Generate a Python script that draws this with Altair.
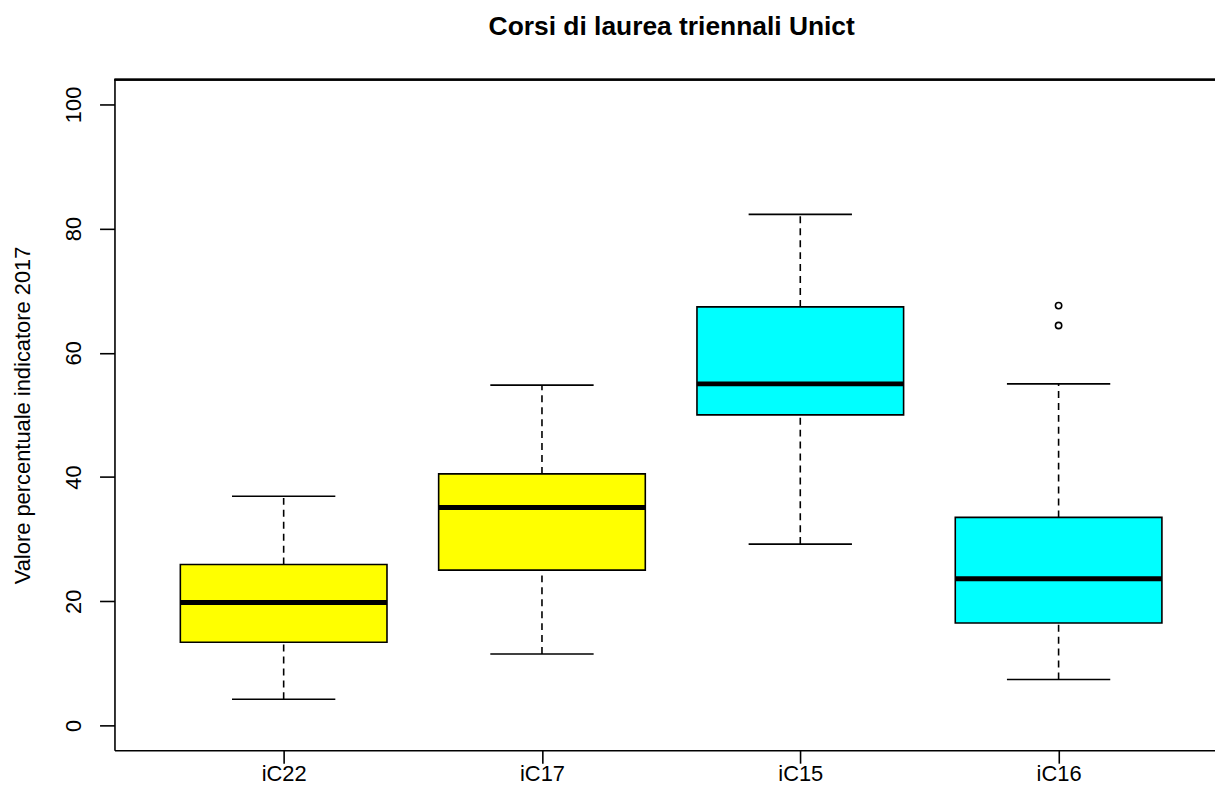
import json
import altair as alt
import pandas as pd

# ---- data ----
categories = ["iC22", "iC17", "iC15", "iC16"]
lower_whisker = [4.2, 11.5, 29.2, 7.4]
q1 = [13.4, 25.0, 50.0, 16.5]
median = [19.8, 35.1, 55.0, 23.6]
q3 = [25.9, 40.5, 67.4, 33.5]
upper_whisker = [36.9, 54.8, 82.3, 55.0]
outlier_cat = ["iC16", "iC16"]
outlier_val = [67.6, 64.4]
y_ticks = [0, 20, 40, 60, 80, 100]

box_colors = ["#FFFF00", "#FFFF00", "#00FFFF", "#00FFFF"]

stats = pd.DataFrame({
    "cat": categories,
    "lower": lower_whisker,
    "q1": q1,
    "median": median,
    "q3": q3,
    "upper": upper_whisker,
})
outliers = pd.DataFrame({"cat": outlier_cat, "value": outlier_val})

FONT = "Liberation Sans"
cat_js = json.dumps(categories)
pos_expr = f"indexof({cat_js}, datum.cat) + 1"

xscale = alt.Scale(domain=[0.345, 4.6055], nice=False, zero=False)
yscale = alt.Scale(domain=[-4, 104], nice=False, zero=False)

xaxis = alt.Axis(
    values=[1, 2, 3, 4],
    labelExpr=f"{cat_js}[datum.value - 1]",
    title=None, grid=False,
    domainColor="black", domainWidth=1.6,
    tickColor="black", tickWidth=1.6, tickSize=13,
    labelFont=FONT, labelFontSize=22, labelColor="black",
    labelPadding=17, labelBaseline="alphabetic", labelAlign="center",
    labelFlush=False, labelOverlap=False,
)
yaxis = alt.Axis(
    values=y_ticks,
    title="Valore percentuale indicatore 2017",
    titleFont=FONT, titleFontSize=22, titleFontWeight="normal", titleColor="black",
    titleAngle=270, titleX=-85, titleY=337, titleAlign="center",
    titleBaseline="alphabetic",
    grid=False,
    domainColor="black", domainWidth=1.6,
    tickColor="black", tickWidth=1.6, tickSize=15,
    labelFont=FONT, labelFontSize=22, labelColor="black",
    labelAngle=270, labelAlign="center", labelBaseline="alphabetic",
    labelPadding=19, labelFlush=False, labelOverlap=False,
)

base = alt.Chart(stats).transform_calculate(
    pos=pos_expr,
    bl=f"({pos_expr}) - 0.4",
    br=f"({pos_expr}) + 0.4",
    cl=f"({pos_expr}) - 0.2",
    cr=f"({pos_expr}) + 0.2",
)

X = lambda f: alt.X(f, type="quantitative", scale=xscale, axis=xaxis)
Y = lambda f: alt.Y(f, type="quantitative", scale=yscale, axis=yaxis)

whisk_up = base.mark_rule(color="black", strokeWidth=1.6, strokeDash=[7, 5]).encode(
    x=X("pos"), y=Y("q3"), y2="upper:Q"
)
whisk_lo = base.mark_rule(color="black", strokeWidth=1.6, strokeDash=[7, 5]).encode(
    x=X("pos"), y=Y("lower"), y2="q1:Q"
)
cap_up = base.mark_rule(color="black", strokeWidth=1.6).encode(
    x=X("cl"), x2="cr:Q", y=Y("upper")
)
cap_lo = base.mark_rule(color="black", strokeWidth=1.6).encode(
    x=X("cl"), x2="cr:Q", y=Y("lower")
)
boxes = base.mark_rect(stroke="black", strokeWidth=1.6).encode(
    x=X("bl"), x2="br:Q", y=Y("q1"), y2="q3:Q",
    fill=alt.Fill("cat:N", scale=alt.Scale(domain=categories, range=box_colors), legend=None),
)
medians = base.mark_rule(color="black", strokeWidth=5).encode(
    x=X("bl"), x2="br:Q", y=Y("median")
)
points = alt.Chart(outliers).transform_calculate(pos=pos_expr).mark_point(
    shape="circle", filled=False, color="black", strokeWidth=1.6, size=40, opacity=1
).encode(x=X("pos"), y=Y("value"))

top_frame = alt.Chart(stats).mark_rule(color="black", strokeWidth=1.6).encode(
    y=alt.Y(datum=104, type="quantitative", scale=yscale, axis=yaxis)
)

chart = alt.layer(
    whisk_up, whisk_lo, boxes, medians, cap_up, cap_lo, points, top_frame
).properties(
    width=1106,
    height=674,
    autosize=alt.AutoSizeParams(type="none"),
    padding={"left": 107, "top": 70, "right": 0, "bottom": 36},
    background="white",
    title=alt.TitleParams(
        text="Corsi di laurea triennali Unict",
        font=FONT, fontSize=26.5, fontWeight="bold", color="black",
        anchor="middle", frame="group", offset=18, baseline="alphabetic", dx=7,
    ),
).configure_view(stroke=None)

chart.save("out.html", embed_options={"renderer": "svg", "actions": False})
